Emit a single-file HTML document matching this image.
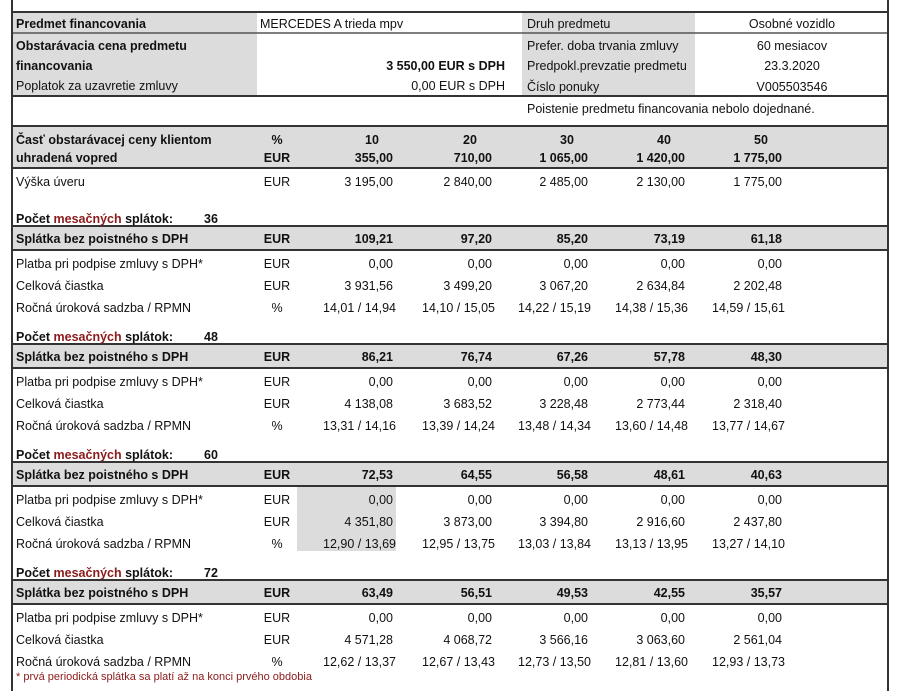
<!DOCTYPE html>
<html><head><meta charset="utf-8">
<style>
html,body{margin:0;padding:0;background:#fff;}
svg{display:block;font-family:"Liberation Sans",Arial,sans-serif;}
</style></head>
<body>
<svg id="sheet" width="900" height="691" viewBox="0 0 900 691" xmlns="http://www.w3.org/2000/svg">
  <rect x="0" y="0" width="900" height="691" fill="#fff"/>
  <rect x="13" y="13" width="244" height="83" fill="#dcdcdc"/>
  <rect x="522" y="13" width="173" height="83" fill="#dcdcdc"/>
  <rect x="13" y="126" width="874" height="42" fill="#dcdcdc"/>
  <g id="bands"></g>
  <rect x="297" y="485" width="99" height="66" fill="#dcdcdc"/>
  <g id="lines" stroke="#333">
    <line x1="12" y1="12" x2="888" y2="12" stroke-width="2"/>
    <line x1="12" y1="33" x2="888" y2="33" stroke-width="1.5" stroke="#555"/>
    <line x1="12" y1="96" x2="888" y2="96" stroke-width="2"/>
    <line x1="12" y1="126" x2="888" y2="126" stroke-width="2"/>
    <line x1="12" y1="168" x2="888" y2="168" stroke-width="2"/>
  </g>
  <g id="topgrp" font-size="12.5" fill="#111">
    <text x="16" y="28" font-weight="bold">Predmet financovania</text>
    <text x="260" y="28">MERCEDES A trieda mpv</text>
    <text x="16" y="50" font-weight="bold">Obstarávacia cena predmetu</text>
    <text x="16" y="70" font-weight="bold">financovania</text>
    <text x="505" y="70" font-weight="bold" text-anchor="end">3  550,00 EUR s DPH</text>
    <text x="16" y="90">Poplatok za uzavretie zmluvy</text>
    <text x="505" y="90" text-anchor="end">0,00 EUR s DPH</text>
    <text x="527" y="28">Druh predmetu</text>
    <text x="792" y="28" text-anchor="middle">Osobné vozidlo</text>
    <text x="527" y="50">Prefer. doba trvania zmluvy</text>
    <text x="792" y="50" text-anchor="middle">60 mesiacov</text>
    <text x="527" y="70">Predpokl.prevzatie predmetu</text>
    <text x="792" y="70" text-anchor="middle">23.3.2020</text>
    <text x="527" y="91">Číslo ponuky</text>
    <text x="792" y="91" text-anchor="middle">V005503546</text>
    <text x="527" y="113">Poistenie predmetu financovania nebolo dojednané.</text>
    <text x="16" y="144" font-weight="bold">Časť obstarávacej ceny klientom</text>
    <text x="16" y="162" font-weight="bold">uhradená vopred</text>
    <text x="277" y="144" font-weight="bold" text-anchor="middle">%</text>
    <text x="277" y="162" font-weight="bold" text-anchor="middle">EUR</text>
    <text x="16" y="186">Výška úveru</text>
    <text x="277" y="186" text-anchor="middle">EUR</text>
  </g>
  <g id="body" font-size="12.5" fill="#111"></g>
  <text x="16" y="680" font-size="11" fill="#8b1a1a">* prvá periodická splátka sa platí až na konci prvého obdobia</text>
  <line x1="12" y1="0" x2="12" y2="691" stroke="#333" stroke-width="2"/>
  <line x1="888" y1="0" x2="888" y2="691" stroke="#333" stroke-width="2"/>
</svg>
<script>
const percents = ["10","20","30","40","50"];
const downPayments = ["355,00","710,00","1  065,00","1  420,00","1  775,00"];
const loanAmounts = ["3 195,00","2 840,00","2 485,00","2 130,00","1 775,00"];
const terms = [36,48,60,72];
const installments = [
  ["109,21","97,20","85,20","73,19","61,18"],
  ["86,21","76,74","67,26","57,78","48,30"],
  ["72,53","64,55","56,58","48,61","40,63"],
  ["63,49","56,51","49,53","42,55","35,57"]
];
const signPayments = [
  ["0,00","0,00","0,00","0,00","0,00"],
  ["0,00","0,00","0,00","0,00","0,00"],
  ["0,00","0,00","0,00","0,00","0,00"],
  ["0,00","0,00","0,00","0,00","0,00"]
];
const totals = [
  ["3 931,56","3 499,20","3 067,20","2 634,84","2 202,48"],
  ["4 138,08","3 683,52","3 228,48","2 773,44","2 318,40"],
  ["4 351,80","3 873,00","3 394,80","2 916,60","2 437,80"],
  ["4 571,28","4 068,72","3 566,16","3 063,60","2 561,04"]
];
const rates = [
  ["14,01 / 14,94","14,10 / 15,05","14,22 / 15,19","14,38 / 15,36","14,59 / 15,61"],
  ["13,31 / 14,16","13,39 / 14,24","13,48 / 14,34","13,60 / 14,48","13,77 / 14,67"],
  ["12,90 / 13,69","12,95 / 13,75","13,03 / 13,84","13,13 / 13,95","13,27 / 14,10"],
  ["12,62 / 13,37","12,67 / 13,43","12,73 / 13,50","12,81 / 13,60","12,93 / 13,73"]
];
const NS="http://www.w3.org/2000/svg";
const colRight=[393,492,588,685,782];
const colCenter=[372,470,567,664,761];
const blockTop=[218,336,454,572];
function txt(parent,x,y,s,opts){
  const t=document.createElementNS(NS,"text");
  t.setAttribute("x",x);t.setAttribute("y",y);
  if(opts&&opts.anchor)t.setAttribute("text-anchor",opts.anchor);
  if(opts&&opts.bold)t.setAttribute("font-weight","bold");
  t.textContent=s;parent.appendChild(t);return t;
}
const topGrp=document.getElementById("topgrp");
percents.forEach((p,i)=>{
  const t=txt(topGrp,colCenter[i],144,p,{anchor:"middle",bold:true});
  
  
  const d=txt(topGrp,colRight[i],162,downPayments[i],{anchor:"end",bold:true});
  
  
  const l=txt(topGrp,colRight[i],186,loanAmounts[i],{anchor:"end"});
  
  
});
const body=document.getElementById("body");
const bands=document.getElementById("bands");
const lines=document.getElementById("lines");
terms.forEach((term,b)=>{
  const P=blockTop[b];
  const r=document.createElementNS(NS,"rect");
  r.setAttribute("x",13);r.setAttribute("y",P+8);r.setAttribute("width",874);r.setAttribute("height",24);r.setAttribute("fill","#dcdcdc");
  
  
  bands.appendChild(r);
  [P+8,P+32].forEach(y=>{
    const ln=document.createElementNS(NS,"line");
    ln.setAttribute("x1",12);ln.setAttribute("x2",888);ln.setAttribute("y1",y);ln.setAttribute("y2",y);ln.setAttribute("stroke-width","2");
    lines.appendChild(ln);
  });
  const h=document.createElementNS(NS,"text");
  h.setAttribute("x",16);h.setAttribute("y",P+5);h.setAttribute("font-weight","bold");
  
  
  const s1=document.createElementNS(NS,"tspan");s1.textContent="Počet ";
  const s2=document.createElementNS(NS,"tspan");s2.textContent="mesačných";s2.setAttribute("fill","#8b1a1a");
  const s3=document.createElementNS(NS,"tspan");s3.textContent=" splátok:";
  h.appendChild(s1);h.appendChild(s2);h.appendChild(s3);
  body.appendChild(h);
  const n=txt(body,204,P+5,String(term),{bold:true});
  
  
  txt(body,16,P+25,"Splátka bez poistného s DPH",{bold:true});
  txt(body,277,P+25,"EUR",{anchor:"middle",bold:true});
  txt(body,16,P+50,"Platba pri podpise zmluvy s DPH*");
  txt(body,277,P+50,"EUR",{anchor:"middle"});
  txt(body,16,P+72,"Celková čiastka");
  txt(body,277,P+72,"EUR",{anchor:"middle"});
  txt(body,16,P+94,"Ročná úroková sadzba / RPMN");
  txt(body,277,P+94,"%",{anchor:"middle"});
  for(let i=0;i<5;i++){
    const a=txt(body,colRight[i],P+25,installments[b][i],{anchor:"end",bold:true});
    
    
    const s=txt(body,colRight[i],P+50,signPayments[b][i],{anchor:"end"});
    
    
    const t=txt(body,colRight[i],P+72,totals[b][i],{anchor:"end"});
    
    
    const q=txt(body,colRight[i]+3,P+94,rates[b][i],{anchor:"end"});
    
    
  }
});
</script>
</body></html>
